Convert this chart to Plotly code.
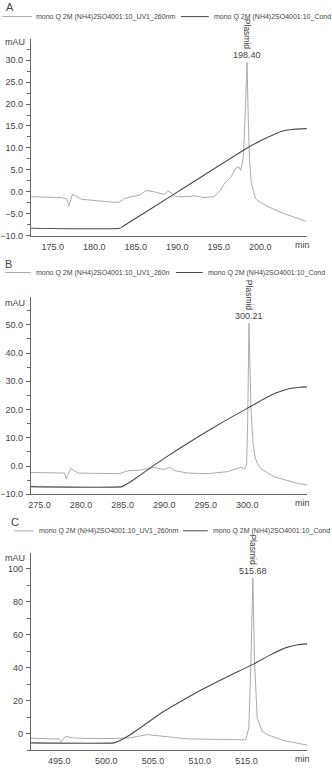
import plotly.graph_objects as go

# ---------------- data ----------------
# Panel A
uv_a_t = [172.4, 176.06, 176.66, 176.94, 177.38, 177.86, 178.46, 180.25, 182.45, 183.04, 183.64, 184.45,
          185.44, 186.24, 187.24, 188.43, 188.84, 189.24, 189.83, 191.24, 192.03, 193.22, 194.42, 195.22,
          195.82, 196.42, 196.82, 197.02, 197.42, 197.62, 197.74, 197.95, 198.2, 198.4, 198.55, 198.7,
          198.9, 199.41, 199.62, 200.82, 202.8, 204.2, 205.52]
uv_a = [-1.1, -1.3, -1.6, -3.3, -0.5, -1.0, -1.7, -2.0, -2.4, -2.3, -1.5, -1.1,
        -0.8, 0.3, 0.0, -0.6, 0.2, -0.2, -1.1, -1.1, -0.9, -1.3, -1.1, 0.4,
        2.3, 3.2, 4.5, 5.3, 5.7, 4.9, 5.7, 7.6, 18.0, 29.5, 17.0, 7.6,
        2.3, -1.5, -1.9, -3.3, -4.9, -5.9, -6.7]
cond_a_t = [172.4, 183.04, 183.5, 190.04, 198.42, 200.0, 200.8, 201.8, 202.6, 203.8, 205.6]
cond_a = [-8.3, -8.3, -7.8, 0.0, 10.0, 11.6, 12.3, 13.2, 13.8, 14.2, 14.4]

# Panel B
uv_b_t = [273.95, 278.03, 278.23, 278.75, 279.63, 284.62, 285.63, 287.22, 288.82, 290.02, 290.62,
          291.22, 292.82, 295.22, 297.62, 299.21, 299.73, 299.93, 300.05, 300.21, 300.45, 300.7,
          300.95, 301.22, 301.61, 303.21, 306.01, 307.21]
uv_b = [-2.3, -2.5, -4.4, -0.8, -2.5, -2.7, -1.7, -1.4, -0.5, -1.3, -0.4,
        -1.6, -2.5, -2.7, -2.0, -0.5, -0.9, 0.7, 15.0, 50.5, 20.0, 8.0,
        3.0, 0.9, -0.85, -3.8, -6.1, -6.7]
cond_b_t = [273.95, 284.91, 285.5, 286.5, 288.8, 291.5, 294.4, 297.2, 300.0, 302.0, 303.5,
            304.5, 305.5, 306.3, 307.21]
cond_b = [-7.3, -7.3, -6.4, -4.5, 0.3, 5.6, 10.9, 15.8, 20.4, 23.7, 25.9,
          26.9, 27.6, 27.9, 28.0]

# Panel C
uv_c_t = [491.95, 494.8, 494.94, 495.15, 495.69, 496.4, 497.8, 501.2, 502.6, 504.4, 506.54, 508.67,
          514.9, 515.25, 515.45, 515.68, 515.85, 516.0, 516.14, 516.68, 517.21, 518.98, 521.48]
uv_c = [-2.8, -3.2, -3.3, -5.0, -1.6, -2.6, -3.0, -3.0, -2.5, -0.6, -2.0, -3.2,
        -3.8, 3.4, 40.0, 94.5, 45.0, 20.0, 9.4, 1.4, -0.6, -4.2, -7.0]
cond_c_t = [491.95, 500.84, 501.3, 501.9, 502.6, 504.0, 505.8, 508.0, 510.1, 513.0, 515.8,
            517.5, 519.3, 520.5, 521.48]
cond_c = [-5.6, -5.6, -4.7, -3.0, -0.6, 4.9, 12.2, 19.6, 26.3, 34.6, 42.3,
          47.6, 52.3, 53.9, 54.4]

panel_letters = ["A", "B", "C"]
legend_uv = ["mono Q 2M (NH4)2SO4001:10_UV1_260nm",
             "mono Q 2M (NH4)2SO4001:10_UV1_260n",
             "mono Q 2M (NH4)2SO4001:10_UV1_260nm"]
legend_cond = ["mono Q 2M (NH4)2SO4001:10_Cond"] * 3
peak_names = ["Plasmid", "Plasmid", "Plasmid"]
peak_times = [198.40, 300.21, 515.68]
peak_heights = [29.5, 50.5, 94.5]
x_ticks = [[175.0, 180.0, 185.0, 190.0, 195.0, 200.0],
           [275.0, 280.0, 285.0, 290.0, 295.0, 300.0],
           [495.0, 500.0, 505.0, 510.0, 515.0]]
x_ranges = [[172.35, 205.65], [273.95, 307.21], [491.95, 521.48]]
y_ranges = [[-10, 34.8], [-10, 59.7], [-10, 109.5]]
y_dtick = [5, 10, 20]
y_minor = [2.5, 5, 10]
y_tick0 = [-10, -10, 0]
y_fmt = [".1f", ".1f", "d"]

uv_t = [uv_a_t, uv_b_t, uv_c_t]
uv_v = [uv_a, uv_b, uv_c]
cond_t = [cond_a_t, cond_b_t, cond_c_t]
cond_v = [cond_a, cond_b, cond_c]

# ---------------- layout geometry (pixels) ----------------
W, H = 332, 768
FONT = "Liberation Sans, Arial, sans-serif"
UV_COL = "#ababab"
COND_COL = "#4a4a4a"
AX_COL = "#666666"
TXT_COL = "#444444"

plot_x = (29, 307)
plot_y = [(39.3, 237.3), (299.3, 497.5), (556.7, 755.0)]
letter_pos = [(8.5, 7), (7, 265.5), (13.5, 525)]
legend_y = [16.7, 274.3, 534.3]
legend_l1 = [(0, 30), (3, 29), (12, 32)]
legend_t1 = [32, 32, 35]
legend_l2 = [(180, 208), (175, 202), (182, 207)]
legend_t2 = [211, 205, 210]
mau_y = [42, 304.5, 561.5]

def px(x):
    return x / W

def py(y):
    return 1 - y / H

fig = go.Figure()
annotations = []
shapes = []

for i in range(3):
    sfx = "" if i == 0 else str(i + 1)
    xa, ya = "x" + sfx, "y" + sfx
    fig.add_trace(go.Scatter(x=uv_t[i], y=uv_v[i], mode="lines", xaxis=xa, yaxis=ya,
                             line=dict(color=UV_COL, width=1), showlegend=False,
                             name=legend_uv[i]))
    fig.add_trace(go.Scatter(x=cond_t[i], y=cond_v[i], mode="lines", xaxis=xa, yaxis=ya,
                             line=dict(color=COND_COL, width=1.1, shape="spline", smoothing=0.4),
                             showlegend=False, name=legend_cond[i]))

    y0, y1 = plot_y[i]
    fig.layout["xaxis" + sfx] = dict(
        domain=[px(plot_x[0]), px(plot_x[1])], range=x_ranges[i], anchor=ya,
        showline=True, linecolor=AX_COL, linewidth=1, showgrid=False, zeroline=False,
        ticks="", tickmode="array", tickvals=x_ticks[i],
        ticktext=[f"{v:.1f}" for v in x_ticks[i]],
        tickfont=dict(family=FONT, size=9, color=TXT_COL), ticklabelstandoff=2,
    )
    fig.layout["yaxis" + sfx] = dict(
        domain=[py(y1), py(y0)], range=y_ranges[i], anchor=xa,
        showline=True, linecolor=AX_COL, linewidth=1, showgrid=False, zeroline=False,
        ticks="outside", ticklen=4, tickcolor=AX_COL, tickwidth=1,
        tickmode="linear", tick0=y_tick0[i], dtick=y_dtick[i], tickformat=y_fmt[i],
        minor=dict(ticks="outside", ticklen=2.5, tickcolor=AX_COL, dtick=y_minor[i],
                   tick0=y_tick0[i], showgrid=False),
        tickfont=dict(family=FONT, size=9, color=TXT_COL), ticklabelstandoff=1,
    )

    # panel letter
    annotations.append(dict(x=px(letter_pos[i][0]), y=py(letter_pos[i][1]), xref="paper", yref="paper",
                            text=panel_letters[i], showarrow=False, xanchor="center", yanchor="middle",
                            font=dict(family=FONT, size=11, color=TXT_COL)))
    # legend
    ly = py(legend_y[i])
    shapes.append(dict(type="line", xref="paper", yref="paper", x0=px(legend_l1[i][0]), x1=px(legend_l1[i][1]),
                       y0=ly, y1=ly, line=dict(color=UV_COL, width=1)))
    shapes.append(dict(type="line", xref="paper", yref="paper", x0=px(legend_l2[i][0]), x1=px(legend_l2[i][1]),
                       y0=ly, y1=ly, line=dict(color=COND_COL, width=1)))
    annotations.append(dict(x=px(legend_t1[i]), y=ly, xref="paper", yref="paper", text=legend_uv[i],
                            showarrow=False, xanchor="left", yanchor="middle",
                            font=dict(family=FONT, size=7, color=TXT_COL)))
    annotations.append(dict(x=px(legend_t2[i]), y=ly, xref="paper", yref="paper", text=legend_cond[i],
                            showarrow=False, xanchor="left", yanchor="middle",
                            font=dict(family=FONT, size=7, color=TXT_COL)))
    # mAU label
    annotations.append(dict(x=px(13), y=py(mau_y[i]), xref="paper", yref="paper", text="mAU",
                            showarrow=False, xanchor="center", yanchor="middle",
                            font=dict(family=FONT, size=9, color=TXT_COL)))
    # "min" label
    annotations.append(dict(x=0.982, y=0, xref=xa + " domain", yref=ya + " domain", text="min",
                            showarrow=False, xanchor="center", yanchor="top", yshift=-2,
                            font=dict(family=FONT, size=9, color=TXT_COL)))
    # peak labels
    annotations.append(dict(x=peak_times[i], y=peak_heights[i], xref=xa, yref=ya,
                            text=f"{peak_times[i]:.2f}", showarrow=False, xanchor="center",
                            yanchor="bottom", yshift=0,
                            font=dict(family=FONT, size=9, color=TXT_COL)))
    annotations.append(dict(x=peak_times[i], y=peak_heights[i], xref=xa, yref=ya,
                            text=peak_names[i], showarrow=False, xanchor="center", textangle=90,
                            yanchor="bottom", yshift=10,
                            font=dict(family=FONT, size=8.5, color=TXT_COL)))

fig.update_layout(
    width=W, height=H, margin=dict(l=0, r=0, t=0, b=0),
    paper_bgcolor="white", plot_bgcolor="white",
    annotations=annotations, shapes=shapes, showlegend=False,
    font=dict(family=FONT, color=TXT_COL),
)

fig.write_html("out.html")
